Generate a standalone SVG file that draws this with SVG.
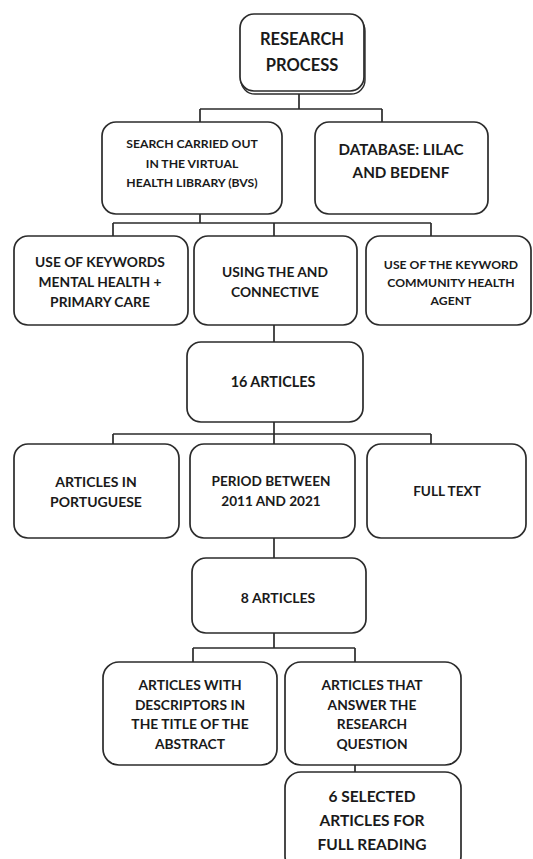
<svg xmlns="http://www.w3.org/2000/svg" width="533" height="859" viewBox="0 0 533 859">
<style>
.box{fill:#fff;stroke:#2b2b2b;stroke-width:1.7}
.sh{fill:#fff;stroke:#2b2b2b;stroke-width:1.4}
.ln{fill:none;stroke:#2b2b2b;stroke-width:1.7}
text{font-family:Lato,"Liberation Sans",sans-serif;font-weight:bold;fill:#1a1a1a;text-anchor:middle;dominant-baseline:central}
</style>
<rect width="533" height="859" fill="#fff"/>
<g id="connectors">
<path class="ln" d="M299 91V109M200 109H382M200 109V122M382 109V122"/>
<path class="ln" d="M200 214V223M113 223H431M113 223V236M274 223V236M431 223V236"/>
<path class="ln" d="M274 325V342"/>
<path class="ln" d="M274 422V434M113 434H431M113 434V444M274 434V444M431 434V444"/>
<path class="ln" d="M274 538V558"/>
<path class="ln" d="M274 633V648M193 648H355M193 648V662M355 648V662"/>
<path class="ln" d="M355 765V772"/>
</g>
<g id="n1">
<rect class="sh" x="241" y="17" width="124" height="77" rx="14"/>
<rect class="box" x="240" y="14" width="124" height="77" rx="14"/>
<text x="302" y="39" font-size="16.5">RESEARCH</text>
<text x="302" y="65" font-size="16.5">PROCESS</text>
</g>
<g id="n2">
<rect class="box" x="102" y="122" width="180" height="92" rx="14"/>
<text x="192" y="143" font-size="12.2">SEARCH CARRIED OUT</text>
<text x="192" y="163" font-size="12.2">IN THE VIRTUAL</text>
<text x="192" y="182" font-size="12.2">HEALTH LIBRARY (BVS)</text>
</g>
<g id="n3">
<rect class="box" x="315" y="122" width="173" height="92" rx="14"/>
<text x="401" y="149" font-size="15.2">DATABASE: LILAC</text>
<text x="401" y="172" font-size="15.2">AND BEDENF</text>
</g>
<g id="n4">
<rect class="box" x="14" y="236" width="174" height="89" rx="14"/>
<text x="100" y="261" font-size="13.8">USE OF KEYWORDS</text>
<text x="100" y="281" font-size="13.8">MENTAL HEALTH +</text>
<text x="100" y="301" font-size="13.8">PRIMARY CARE</text>
</g>
<g id="n5">
<rect class="box" x="194" y="236" width="163" height="89" rx="14"/>
<text x="275" y="271" font-size="13.8">USING THE AND</text>
<text x="275" y="291" font-size="13.8">CONNECTIVE</text>
</g>
<g id="n6">
<rect class="box" x="366" y="236" width="165" height="89" rx="14"/>
<text x="451" y="264" font-size="12.2">USE OF THE KEYWORD</text>
<text x="451" y="282" font-size="12.2">COMMUNITY HEALTH</text>
<text x="451" y="300" font-size="12.2">AGENT</text>
</g>
<g id="n7">
<rect class="box" x="187" y="342" width="176" height="80" rx="14"/>
<text x="273" y="381" font-size="14.4">16 ARTICLES</text>
</g>
<g id="n8">
<rect class="box" x="14" y="444" width="165" height="94" rx="14"/>
<text x="96" y="481" font-size="14">ARTICLES IN</text>
<text x="96" y="501" font-size="14">PORTUGUESE</text>
</g>
<g id="n9">
<rect class="box" x="190" y="444" width="165" height="94" rx="14"/>
<text x="271" y="481" font-size="13.6">PERIOD BETWEEN</text>
<text x="271" y="501" font-size="13.6">2011 AND 2021</text>
</g>
<g id="n10">
<rect class="box" x="367" y="444" width="159" height="94" rx="14"/>
<text x="447" y="491" font-size="13.6">FULL TEXT</text>
</g>
<g id="n11">
<rect class="box" x="192" y="558" width="174" height="75" rx="14"/>
<text x="278" y="597" font-size="14">8 ARTICLES</text>
</g>
<g id="n12">
<rect class="box" x="103" y="662" width="174" height="103" rx="16"/>
<text x="190" y="684" font-size="13.8">ARTICLES WITH</text>
<text x="190" y="704" font-size="13.8">DESCRIPTORS IN</text>
<text x="190" y="723" font-size="13.8">THE TITLE OF THE</text>
<text x="190" y="743" font-size="13.8">ABSTRACT</text>
</g>
<g id="n13">
<rect class="box" x="285" y="662" width="176" height="103" rx="16"/>
<text x="372" y="684" font-size="13.8">ARTICLES THAT</text>
<text x="372" y="704" font-size="13.8">ANSWER THE</text>
<text x="372" y="723" font-size="13.8">RESEARCH</text>
<text x="372" y="743" font-size="13.8">QUESTION</text>
</g>
<g id="n14">
<rect class="box" x="285" y="772" width="176" height="100" rx="16"/>
<text x="372" y="796" font-size="15.5">6 SELECTED</text>
<text x="372" y="820" font-size="15.5">ARTICLES FOR</text>
<text x="372" y="844" font-size="15.5">FULL READING</text>
</g>
</svg>
